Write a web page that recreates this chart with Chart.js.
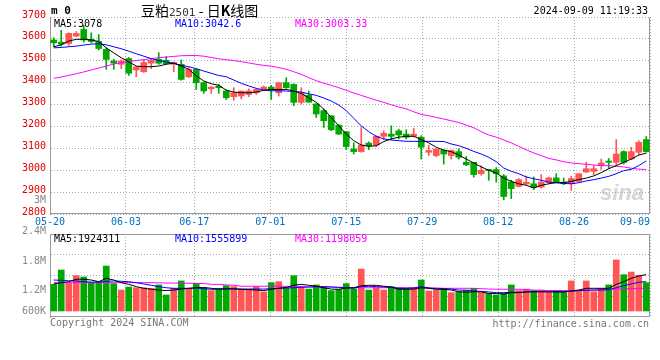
<!DOCTYPE html>
<html>
<head>
<meta charset="utf-8">
<script src="https://cdn.jsdelivr.net/npm/chart.js@4"></script>
<style>
html, body { margin: 0; padding: 0; background: #fff; }
#wrap { position: relative; width: 660px; height: 360px; overflow: hidden;
        font-family: "DejaVu Sans Mono", monospace; font-size: 10px; }
canvas { position: absolute; left: 0; }
#cPrice { top: 0; }
#cVol { top: 232px; }
.t { position: absolute; white-space: nowrap; line-height: 12px; }
.ax { right: 614px; color: #888; text-align: right; }
</style>
</head>
<body>
<div id="wrap">
  <div class="t" style="left:600px;top:181px;font:italic bold 22px 'Liberation Sans';color:#d6d6d6;line-height:24px">sina</div>
  <canvas id="cPrice" width="660" height="232"></canvas>
  <canvas id="cVol" width="660" height="128"></canvas>

  <div class="t" style="left:51px;top:5px;font-weight:bold;font-size:11px">m 0</div>
  <div class="t" style="left:141px;top:2px;font:14px 'Noto Sans CJK SC';line-height:16px">豆粕<span style="font:11px 'DejaVu Sans Mono';color:#333">2501</span> - 日<b>K</b>线图</div>
  <div class="t" style="right:12px;top:5px">2024-09-09 11:19:33</div>

  <div class="t" style="left:54px;top:18px;color:#000">MA5:3078</div>
  <div class="t" style="left:175px;top:18px;color:#0000ff">MA10:3042.6</div>
  <div class="t" style="left:295px;top:18px;color:#ff00ff">MA30:3003.33</div>

  <div class="t" style="left:54px;top:233px;color:#000">MA5:1924311</div>
  <div class="t" style="left:175px;top:233px;color:#0000ff">MA10:1555899</div>
  <div class="t" style="left:295px;top:233px;color:#ff00ff">MA30:1198059</div>

  <div class="t ax" style="top:194px">3M</div>
  <div class="t ax" style="top:225px">2.4M</div>
  <div class="t ax" style="top:255px">1.8M</div>
  <div class="t ax" style="top:284px">1.2M</div>
  <div class="t ax" style="top:305px">600K</div>

  <div class="t" style="left:50px;top:317px;color:#777">Copyright 2024 SINA.COM</div>
  <div class="t" style="right:11px;top:318px;color:#777">http://finance.sina.com.cn</div>
</div>

<script>
// trading days 2024-05-20 .. 2024-09-09
const dates = [
  '05-20','05-21','05-22','05-23','05-24','05-27','05-28','05-29','05-30','05-31',
  '06-03','06-04','06-05','06-06','06-07','06-11','06-12','06-13','06-14','06-17',
  '06-18','06-19','06-20','06-21','06-24','06-25','06-26','06-27','06-28','07-01',
  '07-02','07-03','07-04','07-05','07-08','07-09','07-10','07-11','07-12','07-15',
  '07-16','07-17','07-18','07-19','07-22','07-23','07-24','07-25','07-26','07-29',
  '07-30','07-31','08-01','08-02','08-05','08-06','08-07','08-08','08-09','08-12',
  '08-13','08-14','08-15','08-16','08-19','08-20','08-21','08-22','08-23','08-26',
  '08-27','08-28','08-29','08-30','09-02','09-03','09-04','09-05','09-06','09-09'
];
const tickDates = ['05-20','06-03','06-17','07-01','07-15','07-29','08-12','08-26','09-09'];

const opens = [
  3595,3585,3579,3613,3643,3598,3588,3552,3499,3484,
  3510,3458,3450,3489,3507,3502,3484,3484,3427,3461,
  3400,3372,3384,3362,3336,3339,3346,3354,3369,3380,
  3354,3400,3392,3310,3342,3303,3272,3249,3206,3176,
  3097,3085,3124,3115,3155,3165,3180,3165,3155,3151,
  3082,3067,3092,3067,3085,3036,3036,2984,3003,3003,
  2974,2946,2926,2937,2938,2923,2943,2965,2946,2938,
  2949,2992,2995,3021,3042,3036,3085,3051,3082,3140
];
const highs = [
  3605,3639,3628,3634,3662,3628,3620,3559,3507,3504,
  3515,3473,3504,3510,3537,3519,3495,3504,3469,3463,
  3403,3382,3392,3366,3377,3362,3372,3372,3385,3388,
  3400,3423,3395,3377,3362,3303,3280,3249,3208,3178,
  3125,3195,3130,3157,3180,3203,3188,3185,3192,3158,
  3115,3097,3092,3092,3097,3063,3036,3021,3004,3012,
  2980,2954,2962,2974,2969,2980,2969,2984,2964,2972,
  2984,3036,3021,3051,3054,3140,3089,3105,3135,3154
];
const lows = [
  3564,3567,3570,3610,3585,3582,3549,3461,3461,3464,
  3433,3427,3447,3464,3484,3484,3450,3411,3423,3369,
  3351,3351,3351,3323,3320,3326,3336,3346,3366,3323,
  3339,3374,3295,3303,3310,3241,3195,3180,3163,3094,
  3074,3082,3094,3108,3140,3140,3143,3143,3152,3051,
  3067,3062,3028,3051,3051,3021,2968,2977,2954,2946,
  2865,2870,2923,2934,2912,2918,2938,2943,2934,2908,
  2946,2989,2980,3004,3007,3021,3028,3048,3070,3082
];
const closes = [
  3582,3576,3625,3625,3595,3588,3556,3506,3489,3499,
  3443,3472,3492,3502,3489,3487,3492,3415,3461,3400,
  3362,3380,3377,3331,3354,3362,3362,3369,3380,3366,
  3400,3377,3310,3351,3311,3257,3226,3185,3165,3108,
  3085,3115,3112,3155,3169,3155,3161,3151,3165,3105,
  3090,3097,3074,3090,3059,3025,2980,3000,2998,2984,
  2880,2916,2957,2945,2923,2946,2965,2946,2938,2962,
  2984,3007,3007,3033,3036,3074,3036,3085,3127,3085
];

const ma5 = [
  3564,3573,3590,3598,3598,3595,3588,3559,3536,3514,
  3495,3476,3473,3473,3476,3484,3489,3476,3461,3431,
  3408,3395,3388,3366,3357,3354,3354,3357,3365,3369,
  3369,3369,3362,3351,3331,3310,3279,3241,3203,3165,
  3135,3115,3109,3112,3131,3143,3151,3155,3155,3140,
  3125,3105,3092,3085,3069,3051,3033,3015,3000,2987,
  2964,2949,2938,2931,2919,2931,2938,2943,2943,2949,
  2957,2964,2974,2989,3007,3021,3036,3051,3069,3078
];
const ma10 = [
  3559,3561,3564,3567,3572,3576,3578,3573,3564,3555,
  3544,3532,3521,3510,3501,3495,3489,3479,3473,3464,
  3453,3443,3433,3427,3412,3397,3385,3374,3366,3363,
  3363,3362,3360,3357,3349,3342,3330,3316,3298,3272,
  3237,3203,3176,3155,3143,3138,3135,3132,3132,3132,
  3132,3132,3131,3120,3112,3100,3086,3074,3059,3039,
  3010,2995,2984,2969,2961,2954,2946,2943,2940,2938,
  2943,2951,2957,2964,2972,2984,2998,3004,3021,3042.6
];
const ma30 = [
  3420,3426,3433,3441,3449,3458,3467,3476,3485,3492,
  3496,3501,3505,3510,3514,3517,3520,3523,3524,3524,
  3521,3515,3509,3505,3501,3496,3490,3484,3479,3475,
  3469,3461,3450,3438,3423,3409,3397,3388,3377,3365,
  3353,3342,3331,3320,3310,3299,3289,3280,3267,3255,
  3249,3241,3234,3226,3218,3206,3194,3176,3161,3151,
  3138,3125,3109,3093,3079,3067,3054,3047,3039,3033,
  3030,3027,3024,3021,3021,3018,3015,3009,3005,3003.33
];

const volume = [
  1410000,2170000,1460000,1870000,1800000,1500000,1550000,2380000,1450000,1110000,
  1270000,1230000,1230000,1200000,1380000,850000,1200000,1590000,1200000,1460000,
  1200000,1080000,1200000,1340000,1290000,1150000,1160000,1290000,1010000,1500000,
  1550000,1230000,1870000,1290000,1160000,1380000,1250000,1080000,1150000,1450000,
  1150000,2220000,1110000,1230000,1110000,1290000,1230000,1200000,1200000,1640000,
  1060000,1110000,1200000,970000,1020000,1110000,1200000,970000,930000,850000,
  930000,1380000,1080000,1160000,1080000,1110000,1080000,1080000,1020000,1590000,
  1080000,1590000,1020000,1200000,1380000,2700000,1920000,2060000,1890000,1500000
];
const vma5 = [
  1430000,1500000,1550000,1680000,1680000,1640000,1550000,1730000,1640000,1500000,
  1410000,1290000,1200000,1150000,1110000,1080000,1110000,1160000,1200000,1230000,
  1250000,1200000,1160000,1180000,1180000,1150000,1130000,1110000,1080000,1150000,
  1200000,1250000,1360000,1410000,1360000,1310000,1230000,1160000,1150000,1220000,
  1230000,1340000,1360000,1360000,1310000,1270000,1150000,1150000,1160000,1230000,
  1200000,1150000,1150000,1110000,1020000,990000,1020000,1010000,930000,930000,
  900000,970000,970000,1010000,1020000,1020000,1020000,1010000,1010000,1060000,
  1110000,1200000,1200000,1200000,1200000,1410000,1550000,1730000,1850000,1924311
];
const vma10 = [
  1640000,1620000,1600000,1590000,1550000,1530000,1530000,1570000,1590000,1570000,
  1550000,1500000,1430000,1360000,1290000,1230000,1200000,1200000,1200000,1220000,
  1180000,1150000,1150000,1160000,1160000,1160000,1160000,1160000,1160000,1180000,
  1200000,1220000,1230000,1250000,1270000,1290000,1290000,1270000,1250000,1230000,
  1200000,1290000,1310000,1290000,1270000,1250000,1200000,1200000,1220000,1290000,
  1220000,1180000,1180000,1160000,1110000,1090000,1060000,1040000,1010000,970000,
  970000,990000,990000,1010000,1020000,1020000,1020000,1020000,1020000,1040000,
  1080000,1090000,1110000,1110000,1130000,1230000,1340000,1430000,1520000,1555899
];
const vma30 = [
  1500000,1500000,1500000,1500000,1500000,1500000,1500000,1500000,1500000,1500000,
  1500000,1500000,1500000,1500000,1490000,1480000,1480000,1470000,1470000,1460000,
  1450000,1410000,1410000,1380000,1360000,1310000,1310000,1310000,1310000,1310000,
  1310000,1310000,1290000,1290000,1270000,1270000,1270000,1270000,1250000,1250000,
  1230000,1230000,1230000,1230000,1230000,1230000,1230000,1230000,1230000,1220000,
  1220000,1220000,1200000,1200000,1200000,1200000,1200000,1180000,1160000,1150000,
  1150000,1150000,1150000,1130000,1110000,1090000,1080000,1080000,1080000,1080000,
  1090000,1110000,1110000,1110000,1150000,1160000,1180000,1180000,1200000,1198059
];

const UP = '#ff5555', DOWN = '#00a800';
const barColors = opens.map((o, i) => closes[i] >= o ? UP : DOWN);
const bodies = opens.map((o, i) => [o, closes[i]]);
const wicks = lows.map((l, i) => [l, highs[i]]);

const MONO = 'DejaVu Sans Mono';

// solid frame round the plot area
const frame = {
  id: 'frame',
  beforeDatasetsDraw(chart, args, opts) {
    const { ctx, chartArea: a } = chart;
    const l = Math.round(a.left) + 0.5, r = Math.round(a.right) - 0.5;
    const t = Math.round(a.top) + 0.5, b = Math.round(a.bottom) - 0.5;
    ctx.save();
    ctx.strokeStyle = '#999';
    ctx.lineWidth = 1;
    ctx.beginPath();
    ctx.moveTo(l, t); ctx.lineTo(l, b); ctx.lineTo(r, b); ctx.lineTo(r, t);
    if (opts.top) ctx.lineTo(l, t);
    ctx.stroke();
    ctx.restore();
  }
};

// date labels under the price panel, kept inside the plot width
const dateLabels = {
  id: 'dateLabels',
  afterDraw(chart) {
    const s = chart.scales.xg, ctx = chart.ctx, a = chart.chartArea;
    ctx.save();
    ctx.font = '10px "' + MONO + '"';
    ctx.fillStyle = '#0070c0';
    ctx.textBaseline = 'middle';
    s.ticks.forEach((t, i) => {
      const text = dates[t.value];
      const w = ctx.measureText(text).width;
      const x = Math.min(s.getPixelForTick(i) - w / 2, a.right - w);
      ctx.fillText(text, x, a.bottom + 8);
    });
    ctx.restore();
  }
};

function lineSet(data, color) {
  return { type: 'line', data, borderColor: color, borderWidth: 1, pointRadius: 0,
           tension: 0, order: 0, xAxisID: 'x', yAxisID: 'y' };
}

const gridX = {
  type: 'category', offset: false, position: 'bottom',
  afterBuildTicks: s => { s.ticks = s.ticks.filter(t => tickDates.includes(dates[t.value])); },
  afterFit: s => { s.height = 0; s.paddingLeft = 0; s.paddingRight = 0; },
  grid: { color: '#aaa', drawTicks: false },
  border: { display: false, dash: [1, 2] },
  ticks: { display: false }
};

new Chart(document.getElementById('cPrice'), {
  data: {
    labels: dates,
    datasets: [
      lineSet(ma5, '#000000'),
      lineSet(ma10, '#0000ff'),
      lineSet(ma30, '#ff00ff'),
      { type: 'bar', data: bodies, backgroundColor: barColors, barThickness: 6, minBarLength: 1,
        grouped: false, order: 1, xAxisID: 'x', yAxisID: 'y' },
      { type: 'bar', data: wicks, backgroundColor: barColors, barThickness: 1,
        grouped: false, order: 2, xAxisID: 'x', yAxisID: 'y' }
    ]
  },
  options: {
    responsive: false,
    animation: false,
    events: [],
    layout: { padding: { top: 17, right: 10, bottom: 18, left: 0 } },
    plugins: { legend: { display: false }, tooltip: { enabled: false }, frame: { top: false } },
    scales: {
      x: { type: 'category', display: false, offset: true },
      xg: gridX,
      y: {
        position: 'left', min: 2800, max: 3700,
        afterFit: s => { s.width = 50; },
        ticks: { stepSize: 100, color: '#e00000', padding: 4, labelOffset: -2,
                 font: { family: MONO, size: 10 }, callback: v => String(v) },
        grid: { color: '#aaa', drawTicks: false },
        border: { color: '#999', dash: [1, 2] }
      }
    }
  },
  plugins: [frame, dateLabels]
});

const volMin = -317500, volMax = 4074000;

new Chart(document.getElementById('cVol'), {
  data: {
    labels: dates,
    datasets: [
      lineSet(vma5, '#000000'),
      lineSet(vma10, '#0000ff'),
      lineSet(vma30, '#ff00ff'),
      { type: 'bar', data: volume, backgroundColor: barColors, barThickness: 6,
        order: 1, xAxisID: 'x', yAxisID: 'y' }
    ]
  },
  options: {
    responsive: false,
    animation: false,
    events: [],
    layout: { padding: { top: 2, right: 10, bottom: 43, left: 0 } },
    plugins: { legend: { display: false }, tooltip: { enabled: false }, frame: { top: true } },
    scales: {
      x: { type: 'category', display: false, offset: true },
      xg: gridX,
      y: {
        position: 'left', min: volMin, max: volMax,
        afterBuildTicks: s => {
          s.ticks = [1, 2, 3].map(k => ({ value: volMin + k * (volMax - volMin) / 4 }));
        },
        afterFit: s => { s.width = 50; },
        ticks: { display: false },
        grid: { color: '#aaa', drawTicks: false },
        border: { color: '#999', dash: [1, 2] }
      }
    }
  },
  plugins: [frame]
});
</script>
</body>
</html>
